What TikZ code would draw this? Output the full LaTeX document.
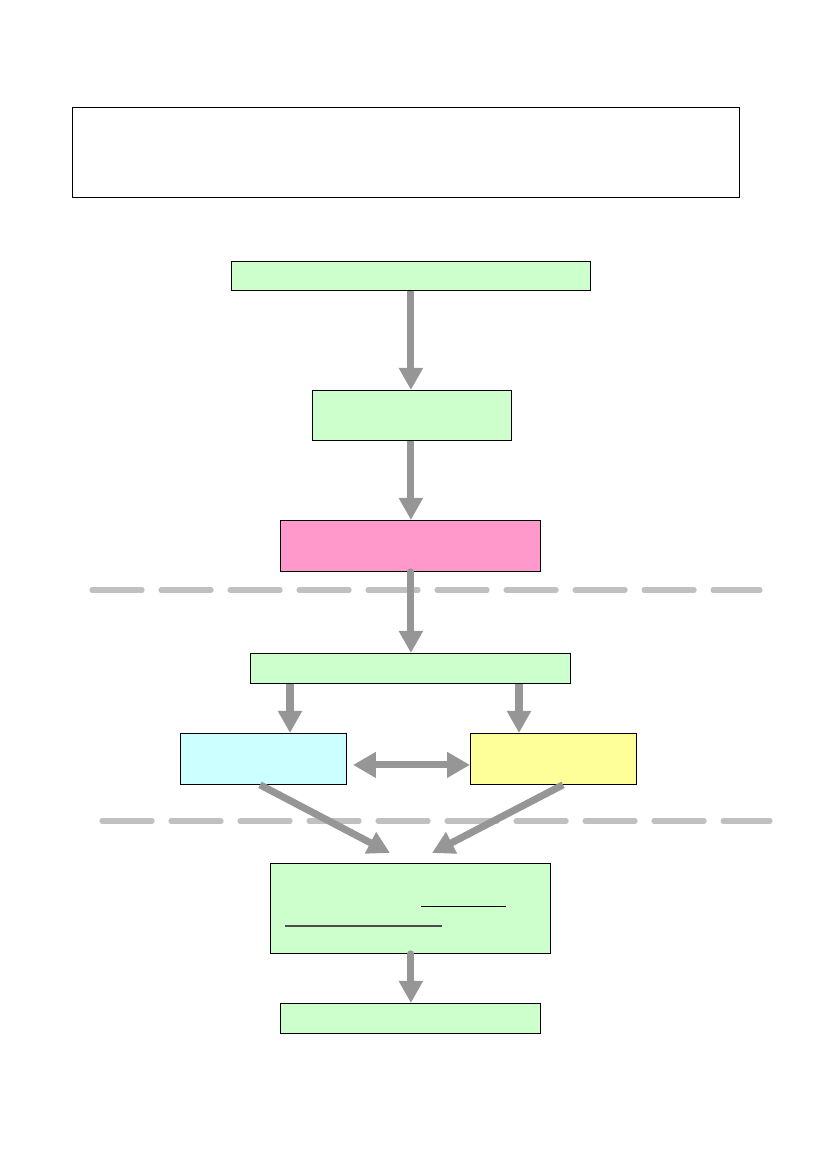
\documentclass[tikz,border=0pt]{standalone}
\usetikzlibrary{arrows.meta,calc}

\definecolor{boxgreen}{HTML}{CCFFCC}
\definecolor{boxpink}{HTML}{FF99CC}
\definecolor{boxcyan}{HTML}{CCFFFF}
\definecolor{boxyellow}{HTML}{FFFF99}
\definecolor{arrowgray}{HTML}{969696}
\definecolor{dashgray}{HTML}{C0C0C0}

\begin{document}
\begin{tikzpicture}[x=0.2536mm,y=-0.2536mm,line join=miter]
  \tikzstyle{box}=[draw=black,line width=0.7pt,inner sep=0pt,anchor=north west]
  \tikzstyle{flow}=[draw=arrowgray,line width=1.8mm,
                    -{Triangle[width=5.8mm,length=5.6mm]}]
  \tikzstyle{twoway}=[flow,{Triangle[width=6.2mm,length=5.8mm]}-{Triangle[width=6.2mm,length=5.8mm]}]
  \tikzstyle{divider}=[draw=dashgray,line width=1.3mm,line cap=round,
                       dash pattern=on 12.7mm off 4.8mm]

  \useasboundingbox (0,0) rectangle (828,1169);

  % header frame
  \node[box,fill=white,minimum width=169.2mm,minimum height=22.8mm] (head) at (72,107) {};

  % main column
  \node[box,fill=boxgreen,minimum width=91.0mm,minimum height=7.4mm]  (b1) at (231,261) {};
  \node[box,fill=boxgreen,minimum width=50.5mm,minimum height=12.7mm] (b2) at (312,390) {};
  \node[box,fill=boxpink,minimum width=65.9mm,minimum height=12.9mm]  (b3) at (280,520) {};
  \node[box,fill=boxgreen,minimum width=81.2mm,minimum height=7.6mm]  (b4) at (250,653) {};
  \node[box,fill=boxcyan,minimum width=42.1mm,minimum height=12.9mm]  (b5) at (180,733) {};
  \node[box,fill=boxyellow,minimum width=42.1mm,minimum height=12.9mm] (b6) at (470,733) {};
  \node[box,fill=boxgreen,minimum width=71.0mm,minimum height=22.8mm] (b7) at (270,863) {};
  \node[box,fill=boxgreen,minimum width=65.9mm,minimum height=7.6mm]  (b8) at (280,1003) {};

  % underlined blanks in b7
  \draw[line width=0.7pt] (421,906) -- (506,906);
  \draw[line width=0.8pt,black!70] (285,926) -- (442,926);

  % dividers
  \draw[divider] (92,590) -- (760,590);
  \draw[divider] (102,821) -- (770,821);

  % connectors
  \draw[flow] (b1.south) -- (b1.south |- b2.north);
  \draw[flow] (b1.south |- b2.south) -- (b1.south |- b3.north);
  \draw[flow,line cap=round] (b1.south |- b3.south) -- (b1.south |- b4.north);
  \draw[flow] ($(b4.south west)+(40,0)$) -- ($(b5.north west)+(110,0)$);
  \draw[flow] ($(b4.south west)+(269,0)$) -- ($(b6.north west)+(49,0)$);
  \draw[twoway] ($(b5.east)+(6,6)$) -- ($(b6.west)+(0,6)$);
  \draw[flow] ($(b5.south west)+(80,0)$) -- ($(b7.north west)+(120,-10)$);
  \draw[flow] ($(b6.south west)+(93,0)$) -- ($(b7.north west)+(162,-10)$);
  \draw[flow,line cap=round] (b1.south |- b7.south) -- (b1.south |- b8.north);
\end{tikzpicture}
\end{document}
